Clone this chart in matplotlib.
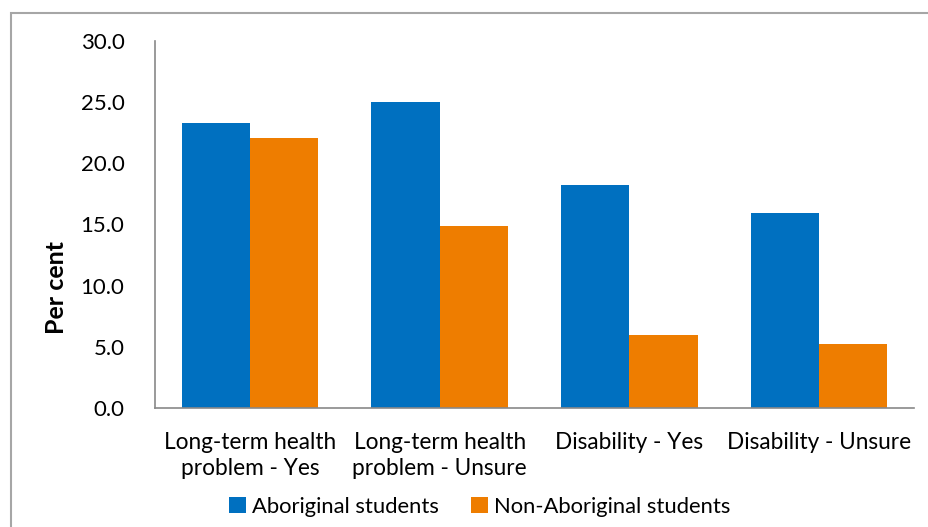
import matplotlib
matplotlib.use("Agg")
import matplotlib.pyplot as plt
from matplotlib.patches import Rectangle, Patch
import numpy as np

categories = ["Long-term health\nproblem - Yes", "Long-term health\nproblem - Unsure",
              "Disability - Yes", "Disability - Unsure"]
series_names = ["Aboriginal students", "Non-Aboriginal students"]
aboriginal = [23.3, 25.0, 18.2, 15.9]
non_aboriginal = [22.1, 14.9, 6.0, 5.2]
yticks = [0.0, 5.0, 10.0, 15.0, 20.0, 25.0, 30.0]
colors = ["#0070C0", "#EE7D00"]

plt.rcParams['font.family'] = ['Lato', 'DejaVu Sans']

W, H = 929, 527
fig = plt.figure(figsize=(W / 100, H / 100), dpi=100)
ax = fig.add_axes([155 / W, 1 - 408 / H, (914 - 155) / W, (408 - 41) / H])

# outer border
fig.patches.append(Rectangle((11 / W, -0.05), 1.0, 1 - 13 / H + 0.05, transform=fig.transFigure,
                             fill=False, edgecolor="#A6A6A6", linewidth=1.5))

x = np.arange(len(categories))
bw = 0.36
ax.bar(x - bw / 2, aboriginal, bw, color=colors[0], label=series_names[0])
ax.bar(x + bw / 2, non_aboriginal, bw, color=colors[1], label=series_names[1])

ax.set_xlim(-0.5, len(categories) - 0.5)
ax.set_ylim(0, 30)
ax.set_yticks(yticks)
ax.set_yticklabels([f"{v:.1f}" for v in yticks], fontsize=16)
ax.set_xticks(x)
ax.set_xticklabels(categories, fontsize=16.3, linespacing=1.3)
ax.tick_params(axis='y', length=0, pad=22)
ax.tick_params(axis='x', length=0, pad=17)

for s in ["top", "right"]:
    ax.spines[s].set_visible(False)
for s in ["left", "bottom"]:
    ax.spines[s].set_color("#898989")
    ax.spines[s].set_linewidth(1.2)

fig.text(57 / W, 1 - 288 / H, "Per cent", rotation=90, fontsize=18, fontweight="bold",
         ha="center", va="center")

handles = [Patch(facecolor=colors[0]), Patch(facecolor=colors[1])]
fig.legend(handles, series_names, loc="center", bbox_to_anchor=(480 / W, 1 - 507 / H),
           ncol=2, frameon=False, fontsize=15.8, handlelength=0.75, handleheight=0.75,
           handletextpad=0.3, columnspacing=1.45)

fig.savefig("out.png", dpi=100)
